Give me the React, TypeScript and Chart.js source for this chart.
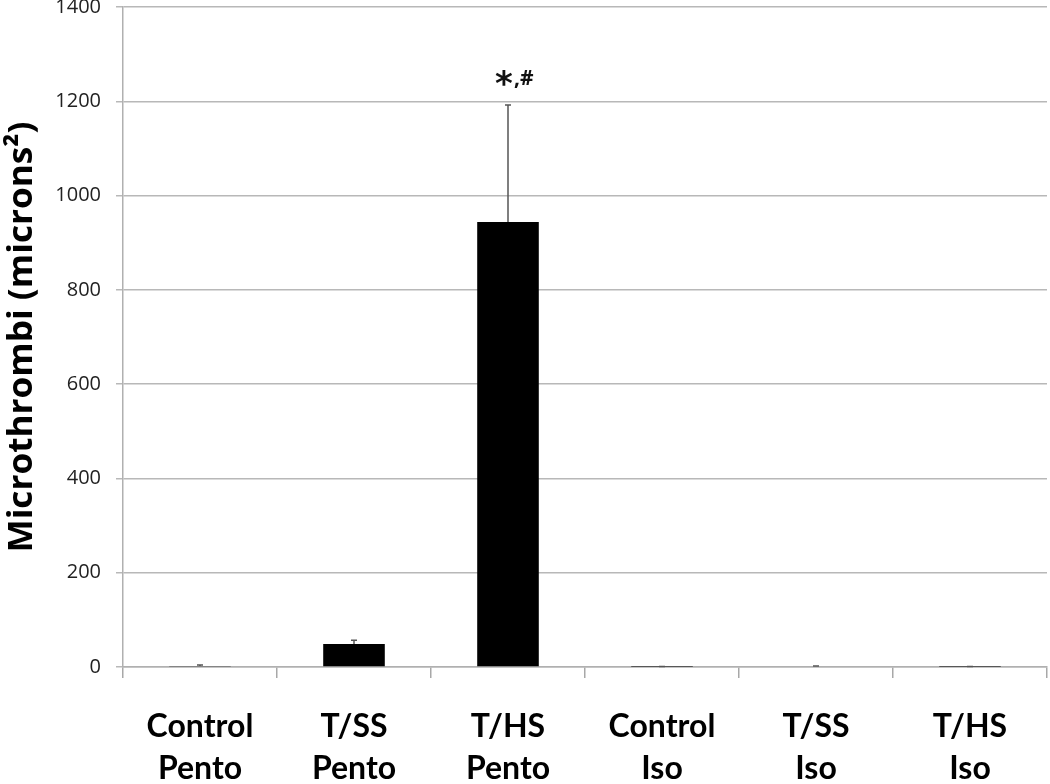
import React, { useEffect, useRef } from "react";
import { Chart, registerables } from "chart.js";

Chart.register(...registerables);

const categories: string[][] = [
  ["Control", "Pento"],
  ["T/SS", "Pento"],
  ["T/HS", "Pento"],
  ["Control", "Iso"],
  ["T/SS", "Iso"],
  ["T/HS", "Iso"],
];
const means: number[] = [2, 49, 944, 0.5, 1.5, 0.5];
const errors: number[] = [2, 8, 248, 0.3, 0.8, 0.3];
const significance: string[] = ["", "", "*,#", "", "", ""];
const yTicks: number[] = [0, 200, 400, 600, 800, 1000, 1200, 1400];
const yTitle = "Microthrombi (microns²)";

const FONT = "Lato, 'Open Sans', sans-serif";

const extrasPlugin = {
  id: "extras",
  afterDatasetsDraw(chart: any) {
    const ctx = chart.ctx;
    const x = chart.scales.x;
    const y = chart.scales.y;
    ctx.save();
    means.forEach((m, i) => {
      const cx = x.getPixelForValue(i);
      const top = y.getPixelForValue(m + errors[i]);
      const base = y.getPixelForValue(m);
      ctx.strokeStyle = "#555";
      ctx.lineWidth = 1.5;
      ctx.beginPath();
      ctx.moveTo(cx, base);
      ctx.lineTo(cx, top);
      ctx.moveTo(cx - 3, top);
      ctx.lineTo(cx + 3, top);
      ctx.stroke();
      const s = significance[i];
      if (s) {
        const star = s.slice(0, 1);
        const rest = s.slice(1);
        ctx.fillStyle = "#111";
        ctx.textBaseline = "alphabetic";
        ctx.font = `bold 34px 'DejaVu Sans', sans-serif`;
        ctx.textAlign = "center";
        const mm = ctx.measureText(star);
        const asc = mm.actualBoundingBoxAscent;
        const desc = mm.actualBoundingBoxDescent;
        const targetCenter = top - 27;
        const baseline = targetCenter + (asc - desc) / 2;
        ctx.fillText(star, cx - 4, baseline);
        ctx.font = `bold 21px 'Open Sans', sans-serif`;
        ctx.textAlign = "left";
        ctx.fillText(rest, cx + 6, top - 20);
      }
    });
    ctx.translate(32, (y.top + y.bottom) / 2);
    ctx.rotate(-Math.PI / 2);
    ctx.font = `bold 34px 'Open Sans', ${FONT}`;
    const w = ctx.measureText(yTitle).width;
    const target = 431;
    ctx.scale(target / w, 1);
    ctx.fillStyle = "#000";
    ctx.textAlign = "center";
    ctx.textBaseline = "alphabetic";
    ctx.fillText(yTitle, 0, 0);
    ctx.restore();
  },
};

export default function App() {
  const ref = useRef<HTMLCanvasElement | null>(null);
  useEffect(() => {
    if (!ref.current) return;
    const chart = new Chart(ref.current, {
      type: "bar",
      data: {
        labels: categories,
        datasets: [
          {
            data: means,
            backgroundColor: "#000",
            borderWidth: 0,
            barPercentage: 0.4,
            categoryPercentage: 1,
          },
        ],
      },
      options: {
        animation: false,
        responsive: false,
        maintainAspectRatio: false,
        layout: { padding: { left: 0, right: 3, top: 7, bottom: 0 } },
        plugins: { legend: { display: false }, tooltip: { enabled: false } },
        scales: {
          x: {
            grid: {
              offset: true,
              drawOnChartArea: false,
              drawTicks: true,
              tickLength: 11,
              color: "#a8a8a8",
              lineWidth: 1.5,
            },
            border: { color: "#b0b0b0", width: 1.5 },
            ticks: {
              color: "#000",
              font: { family: FONT, weight: "bold", size: 32, lineHeight: 1.33 },
              padding: 27,
              maxRotation: 0,
              autoSkip: false,
            },
            afterFit(scale: any) {
              scale.height = 117;
              scale.paddingLeft = 0;
              scale.paddingRight = 0;
            },
          },
          y: {
            min: 0,
            max: 1400,
            afterBuildTicks(scale: any) {
              scale.ticks = yTicks.map((v) => ({ value: v }));
            },
            grid: {
              color: "#b8b8b8",
              lineWidth: 1.5,
              tickLength: 7,
            },
            border: { color: "#b0b0b0", width: 1.5 },
            ticks: {
              color: "#222",
              font: { family: "'Open Sans', sans-serif", size: 20 },
              padding: 15,
              callback: (v: any) => String(v),
            },
            afterFit(scale: any) {
              scale.width = 123;
              scale.paddingTop = 0;
              scale.paddingBottom = 0;
            },
          },
        },
      },
      plugins: [extrasPlugin],
    });
    return () => chart.destroy();
  }, []);
  return (
    <div style={{ position: "fixed", left: 0, top: 0, width: 1050, height: 784, background: "#fff" }}>
      <canvas ref={ref} width={1050} height={784} style={{ width: 1050, height: 784 }} />
    </div>
  );
}
